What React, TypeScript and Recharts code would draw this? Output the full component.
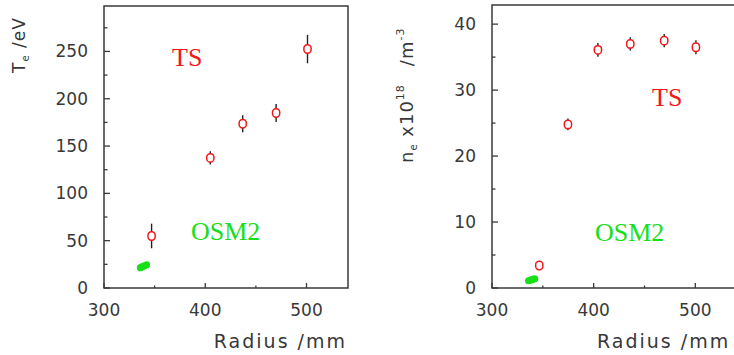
import React from "react";
import {
  ScatterChart,
  Scatter,
  XAxis,
  YAxis,
  ErrorBar,
  ReferenceArea,
} from "recharts";

// Te profile (left panel)
const teRadius = [347, 405, 437, 470, 501];
const teValue = [55, 137.5, 173.5, 185, 252.5];
const teErr = [13, 7, 9, 9.5, 15];
const osmTeRadius = [336, 338, 340, 342];
const osmTeValue = [21.5, 22.5, 23.5, 24.5];

// ne profile (right panel)
const neRadius = [346.5, 374.7, 404.2, 436, 469.4, 500.6];
const neValue = [3.4, 24.8, 36.1, 37.0, 37.5, 36.5];
const neErr = [0.3, 0.9, 1.05, 1.0, 1.0, 1.05];
const osmNeRadius = [336, 338, 340, 342];
const osmNeValue = [1.1, 1.2, 1.3, 1.4];

const radiusTicks = [300, 350, 400, 450, 500];
const radiusLabels = [300, 400, 500];
const teTicks = [0, 25, 50, 75, 100, 125, 150, 175, 200, 225, 250, 275];
const teLabels = [0, 50, 100, 150, 200, 250];
const neTicks = [0, 5, 10, 15, 20, 25, 30, 35, 40];
const neLabels = [0, 10, 20, 30, 40];

const X_DOMAIN: [number, number] = [300, 541];
const TE_DOMAIN: [number, number] = [0, 298];
const NE_DOMAIN: [number, number] = [0, 42.9];

const RED = "#f01818";
const GREEN = "#18e018";
const AXIS = "#3a3a3a";
const TEXT = "#383838";
const TICK_FONT = "'DejaVu Sans', sans-serif";
const SERIF = "'Liberation Serif', 'Times New Roman', serif";

const toPoints = (xs: number[], ys: number[], errs?: number[]) =>
  xs.map((x, i) => ({ x, y: ys[i], err: errs ? errs[i] : 0 }));

const makeYTick = (plotLeft: number, labels: number[]) => (props: any) => {
  const { y, payload } = props;
  const major = labels.includes(payload.value);
  return (
    <g>
      <line
        x1={plotLeft}
        x2={plotLeft + (major ? 6 : 3.5)}
        y1={y}
        y2={y}
        stroke={AXIS}
        strokeWidth={1.3}
      />
      {major && (
        <text
          x={plotLeft - 16}
          y={y}
          dy={6}
          textAnchor="end"
          fontFamily={TICK_FONT}
          fontSize={17}
          fill={TEXT}
        >
          {payload.value}
        </text>
      )}
    </g>
  );
};

const makeXTick = (plotBottom: number) => (props: any) => {
  const { x, payload } = props;
  const major = radiusLabels.includes(payload.value);
  return (
    <g>
      <line
        x1={x}
        x2={x}
        y1={plotBottom}
        y2={plotBottom - (major ? 5 : 2.5)}
        stroke={AXIS}
        strokeWidth={1.3}
      />
      {major && (
        <text
          x={x}
          y={plotBottom + 28}
          textAnchor="middle"
          fontFamily={TICK_FONT}
          fontSize={17}
          fill={TEXT}
        >
          {payload.value}
        </text>
      )}
    </g>
  );
};

const OpenMarker = (props: any) => {
  const { cx, cy } = props;
  return (
    <rect
      x={cx - 3.6}
      y={cy - 4.2}
      width={7.2}
      height={8.4}
      rx={3.4}
      fill="#fff"
      stroke={RED}
      strokeWidth={1.5}
    />
  );
};

const GreenDot = (props: any) => (
  <circle cx={props.cx} cy={props.cy} r={3.6} fill={GREEN} />
);

const NoShape = () => <g />;

type PanelProps = {
  left: number;
  width: number;
  marginTop: number;
  marginRight: number;
  yAxisWidth: number;
  yDomain: [number, number];
  yTicks: number[];
  yLabels: number[];
  ts: { x: number; y: number; err: number }[];
  osm: { x: number; y: number; err: number }[];
};

const Panel: React.FC<PanelProps> = ({
  left,
  width,
  marginTop,
  marginRight,
  yAxisWidth,
  yDomain,
  yTicks,
  yLabels,
  ts,
  osm,
}) => {
  const plotBottom = 288;
  return (
    <div style={{ position: "absolute", left, top: 0 }}>
      <ScatterChart
        width={width}
        height={355}
        margin={{ top: marginTop, right: marginRight, bottom: 0, left: 0 }}
      >
        <XAxis
          type="number"
          dataKey="x"
          domain={X_DOMAIN}
          ticks={radiusTicks}
          allowDataOverflow
          axisLine={false}
          tickLine={false}
          height={355 - plotBottom}
          tick={makeXTick(plotBottom)}
        />
        <YAxis
          type="number"
          dataKey="y"
          domain={yDomain}
          ticks={yTicks}
          allowDataOverflow
          axisLine={false}
          tickLine={false}
          width={yAxisWidth}
          tick={makeYTick(yAxisWidth, yLabels)}
        />
        <ReferenceArea
          x1={X_DOMAIN[0]}
          x2={X_DOMAIN[1]}
          y1={yDomain[0]}
          y2={yDomain[1]}
          fill="none"
          stroke={AXIS}
          strokeWidth={1.5}
        />
        <Scatter data={osm} shape={GreenDot} isAnimationActive={false} />
        <Scatter data={ts} shape={NoShape} isAnimationActive={false}>
          <ErrorBar
            dataKey="err"
            direction="y"
            width={0}
            stroke="#222"
            strokeWidth={1.4}
          />
        </Scatter>
        <Scatter data={ts} shape={OpenMarker} isAnimationActive={false} />
      </ScatterChart>
    </div>
  );
};

const labelFont = { fontFamily: TICK_FONT, fill: TEXT };

const App: React.FC = () => {
  return (
    <div
      style={{
        position: "absolute",
        left: 0,
        top: 0,
        width: 734,
        height: 355,
        overflow: "hidden",
        background: "#fff",
      }}
    >
      <Panel
        left={0}
        width={367}
        marginTop={6}
        marginRight={19}
        yAxisWidth={104}
        yDomain={TE_DOMAIN}
        yTicks={teTicks}
        yLabels={teLabels}
        ts={toPoints(teRadius, teValue, teErr)}
        osm={toPoints(osmTeRadius, osmTeValue)}
      />
      <Panel
        left={367}
        width={380}
        marginTop={5}
        marginRight={10}
        yAxisWidth={125}
        yDomain={NE_DOMAIN}
        yTicks={neTicks}
        yLabels={neLabels}
        ts={toPoints(neRadius, neValue, neErr)}
        osm={toPoints(osmNeRadius, osmNeValue)}
      />
      <svg
        width={734}
        height={355}
        style={{ position: "absolute", left: 0, top: 0, pointerEvents: "none" }}
      >
        {/* axis titles */}
        <text
          transform="translate(25,73) rotate(-90)"
          fontSize={17}
          letterSpacing={1}
          {...labelFont}
        >
          T
          <tspan fontSize={10} dy={4}>
            e
          </tspan>
          <tspan dy={-4}> /eV</tspan>
        </text>
        <text
          transform="translate(413,163) rotate(-90)"
          fontSize={18}
          letterSpacing={1}
          {...labelFont}
        >
          n
          <tspan fontSize={10} dy={4}>
            e
          </tspan>
          <tspan dy={-4}> x10</tspan>
          <tspan fontSize={11} dy={-9}>
            18
          </tspan>
          <tspan dy={9} dx={18}>
            /m
          </tspan>
          <tspan fontSize={11} dy={-9}>
            -3
          </tspan>
        </text>
        <text x={347} y={348} textAnchor="end" fontSize={19} letterSpacing={2} {...labelFont}>
          Radius /mm
        </text>
        <text x={597} y={348} fontSize={19} letterSpacing={2} {...labelFont}>
          Radius /mm
        </text>
        {/* series names */}
        <text x={172} y={66} fontFamily={SERIF} fontSize={26} fill={RED}>
          TS
        </text>
        <text x={191} y={240} fontFamily={SERIF} fontSize={26} fill={GREEN}>
          OSM2
        </text>
        <text x={652} y={106} fontFamily={SERIF} fontSize={26} fill={RED}>
          TS
        </text>
        <text x={595} y={241} fontFamily={SERIF} fontSize={26} fill={GREEN}>
          OSM2
        </text>
      </svg>
    </div>
  );
};

export default App;
